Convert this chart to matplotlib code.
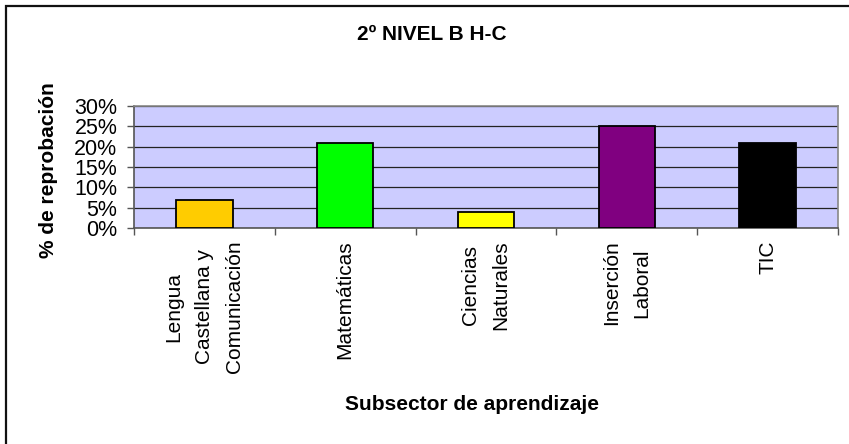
import matplotlib
matplotlib.use("Agg")
import matplotlib.pyplot as plt
from matplotlib.patches import Rectangle
from matplotlib.ticker import FixedLocator, FuncFormatter

plt.rcParams['font.family'] = ['Liberation Sans', 'DejaVu Sans']

categories = ["Lengua\nCastellana y\nComunicación", "Matemáticas",
              "Ciencias\nNaturales", "Inserción\nLaboral", "TIC"]
values = [7, 21, 4, 25, 21]
colors = ["#FFCC00", "#00FF00", "#FFFF00", "#800080", "#000000"]
y_ticks = [0, 5, 10, 15, 20, 25, 30]

W, H = 849, 444
fig = plt.figure(figsize=(W / 100, H / 100), dpi=100)
fig.patch.set_facecolor("white")

# outer chart frame (right/bottom edges fall outside the canvas)
fig.patches.append(Rectangle((6 / W, -0.1), 1.2, 1 - 6 / H + 0.1,
                             transform=fig.transFigure, fill=False,
                             edgecolor="#111111", linewidth=1.6))

ax = fig.add_axes([134 / W, 1 - 228 / H, (838 - 134) / W, (228 - 106) / H])
ax.set_facecolor("#CCCCFF")

x = list(range(len(categories)))
ax.bar(x, values, width=0.4, color=colors, edgecolor="black",
       linewidth=1.3, zorder=3)

ax.set_xlim(-0.5, len(categories) - 0.5)
ax.set_ylim(0, 30)

ax.yaxis.set_major_locator(FixedLocator(y_ticks))
ax.yaxis.set_major_formatter(FuncFormatter(lambda v, p: f"{int(v)}%"))
ax.grid(axis="y", color="#222222", linewidth=0.9, zorder=1)
ax.set_axisbelow(True)

ax.set_xticks(x)
ax.set_xticklabels(categories, rotation=90, ha="center", va="top",
                   multialignment="center", linespacing=1.75)
ax.set_xticks([i - 0.5 for i in range(len(categories) + 1)], minor=True)
ax.tick_params(axis="x", which="major", length=0, pad=9, labelsize=15)
ax.tick_params(axis="x", which="minor", length=5, width=1, color="#555555",
               direction="out")
ax.tick_params(axis="y", length=5, width=1, color="#555555", pad=7,
               labelsize=15.5, direction="out")

for side in ("top", "right"):
    ax.spines[side].set_color("#888888")
    ax.spines[side].set_linewidth(1.2)
for side in ("left", "bottom"):
    ax.spines[side].set_color("#555555")
    ax.spines[side].set_linewidth(1.2)

fig.text(432 / W, 1 - 35 / H, "2º NIVEL B H-C", ha="center", va="center",
         fontsize=15, fontweight="bold")
fig.text(49 / W, 1 - 170 / H, "% de reprobación", rotation=90,
         ha="center", va="center", fontsize=15, fontweight="bold")
fig.text(472 / W, 1 - 404 / H, "Subsector de aprendizaje", ha="center",
         va="center", fontsize=15, fontweight="bold")

fig.savefig("out.png", dpi=100)
